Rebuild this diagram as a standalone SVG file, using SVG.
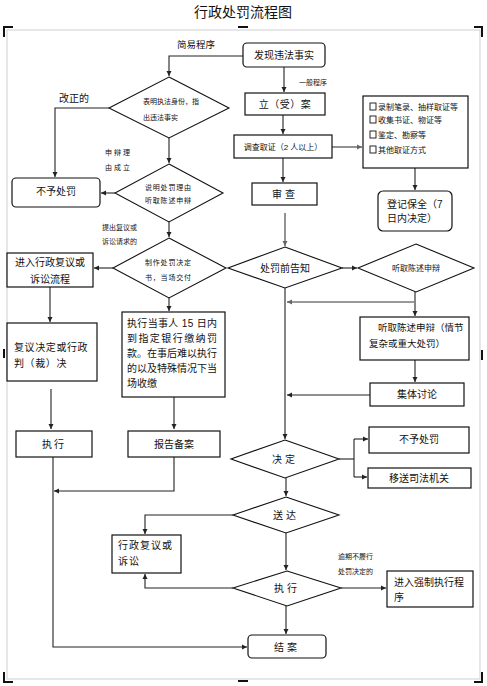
<svg xmlns="http://www.w3.org/2000/svg" width="487" height="686" viewBox="0 0 487 686">
<defs>
<marker id="ah" markerWidth="6" markerHeight="6" refX="5" refY="3" orient="auto" markerUnits="userSpaceOnUse">
<path d="M0,0.5 L5,3 L0,5.5 Z" fill="#222"/>
</marker>
<marker id="ahg" markerWidth="6" markerHeight="6" refX="5" refY="3" orient="auto" markerUnits="userSpaceOnUse">
<path d="M0,0.5 L5,3 L0,5.5 Z" fill="#666"/>
</marker>
</defs>
<style>
text{font-family:"Liberation Sans","Noto Sans CJK SC",sans-serif;fill:#111}
.t{font-size:10px}
.c{text-anchor:middle}
.s{font-size:7px}
.m{font-size:8px}
.n{fill:#fff;stroke:#111;stroke-width:1.2}
.d{fill:#fff;stroke:#111;stroke-width:1.1}
.e{fill:none;stroke:#222;stroke-width:1.1}
.g{fill:none;stroke:#777;stroke-width:1.6}
.cb{fill:#fff;stroke:#111;stroke-width:0.9}
.mark{fill:#111}
</style>
<rect width="487" height="686" fill="#fff"/>
<g id="page">
<rect x="7" y="30" width="473" height="649" fill="none" stroke="#cfcfd4" stroke-width="1"/>
<path class="mark" d="M3,26h10v2H5v9H3z"/>
<path class="mark" d="M474,26h9v11h-2v-9h-7z"/>
<path class="mark" d="M3,672h2v9h8v2H3z"/>
<path class="mark" d="M481,672h2v11h-9v-2h7z"/>
<rect class="mark" x="238" y="26" width="10" height="2"/>
<rect class="mark" x="238" y="680" width="10" height="2"/>
<rect class="mark" x="3" y="349" width="2" height="9"/>
<rect class="mark" x="481" y="350" width="2" height="10"/>
<text x="243" y="17" class="c" style="font-size:14px">行政处罚流程图</text>
</g>
<g id="connectors">
<path class="e" d="M243,56H169V76" marker-end="url(#ah)"/>
<path class="e" d="M284,67V92" marker-end="url(#ah)"/>
<path class="e" d="M283,115V134" marker-end="url(#ah)"/>
<path class="e" d="M283,158V182" marker-end="url(#ah)"/>
<path class="g" d="M285,213V246" marker-end="url(#ahg)"/>
<path class="g" d="M332,147H362" marker-end="url(#ahg)"/>
<path class="e" d="M415,168V190" marker-end="url(#ah)"/>
<path class="e" d="M109,108H55V177" marker-end="url(#ah)"/>
<path class="e" d="M169,138V163" marker-end="url(#ah)"/>
<path class="e" d="M115,193H101" marker-end="url(#ah)"/>
<path class="e" d="M169,222V237" marker-end="url(#ah)"/>
<path class="e" d="M113,268H94" marker-end="url(#ah)"/>
<path class="e" d="M169,298V311" marker-end="url(#ah)"/>
<path class="e" d="M50,287V322" marker-end="url(#ah)"/>
<path class="e" d="M51,389V429" marker-end="url(#ah)"/>
<path class="e" d="M174,397V429" marker-end="url(#ah)"/>
<path class="e" d="M53,457V647H247" marker-end="url(#ah)"/>
<path class="e" d="M174,457V491H54" marker-end="url(#ah)"/>
<path class="e" d="M342,268H357" marker-end="url(#ah)"/>
<path class="e" d="M415,292V316" marker-end="url(#ah)"/>
<path class="g" d="M414,302H287" marker-end="url(#ahg)"/>
<path class="e" d="M285,288V439" marker-end="url(#ah)"/>
<path class="e" d="M415,360V382" marker-end="url(#ah)"/>
<path class="e" d="M370,395H287" marker-end="url(#ah)"/>
<path class="e" d="M339,459H354"/>
<path class="e" d="M354,439V477"/>
<path class="e" d="M354,439H368" marker-end="url(#ah)"/>
<path class="e" d="M354,477H367" marker-end="url(#ah)"/>
<path class="e" d="M286,477V496" marker-end="url(#ah)"/>
<path class="e" d="M233,515H145V534" marker-end="url(#ah)"/>
<path class="e" d="M286,533V570" marker-end="url(#ah)"/>
<path class="e" d="M233,588H145V574" marker-end="url(#ah)"/>
<path class="e" d="M341,588H386" marker-end="url(#ah)"/>
<path class="e" d="M286,606V634" marker-end="url(#ah)"/>
<text x="196" y="48" class="c" style="font-size:9.5px">简易程序</text>
<text x="74" y="102" class="c" style="font-size:10px">改正的</text>
<text x="105" y="155" class="s" style="letter-spacing:2px">申辩理</text>
<text x="105" y="170" class="s" style="letter-spacing:2px">由成立</text>
<text x="102" y="230" class="s">提出复议或</text>
<text x="102" y="244" class="s">诉讼请求的</text>
<text x="299" y="85" class="s">一般程序</text>
<text x="338" y="559" class="s">逾期不履行</text>
<text x="338" y="574" class="s">处罚决定的</text>
</g>
<g id="n-discover"><rect class="n" x="243" y="43" width="82" height="24" rx="4"/><text x="284" y="59" class="t c">发现违法事实</text></g>
<g id="n-d1"><polygon class="d" points="169,77 229,108 169,138 109,108"/><text x="143" y="104" class="s">表明执法身份，指</text><text x="143" y="120" class="s">出违法事实</text></g>
<g id="n-nopenalty1"><rect class="n" x="12" y="178" width="88" height="29" rx="4"/><text x="56" y="195" class="t c">不予处罚</text></g>
<g id="n-d2"><polygon class="d" points="169,164 223,193 169,222 115,193"/><text x="145" y="190" class="s" style="letter-spacing:0.8px">说明处罚理由</text><text x="145" y="203" class="s" style="letter-spacing:0.8px">听取陈述申辩</text></g>
<g id="n-d3"><polygon class="d" points="169,238 226,268 169,298 113,268"/><text x="145" y="265" class="s" style="letter-spacing:0.8px">制作处罚决定</text><text x="145" y="280" class="s" style="letter-spacing:0.8px">书，当场交付</text></g>
<g id="n-review"><rect class="n" x="7" y="253" width="86" height="34"/><text x="50" y="266" class="t c">进入行政复议或</text><text x="50" y="283" class="t c">诉讼流程</text></g>
<g id="n-verdict"><rect class="n" x="7" y="323" width="90" height="58"/><text x="14" y="351" class="t" style="letter-spacing:0.6px">复议决定或行政</text><text x="14" y="367" class="t" style="letter-spacing:0.6px">判（裁）决</text></g>
<g id="n-exec1"><rect class="n" x="16" y="431" width="76" height="26"/><text x="54" y="448" class="t c" style="letter-spacing:2px">执行</text></g>
<g id="n-pay"><rect class="n" x="122" y="312" width="103" height="85"/>
<text x="127" y="327" class="t" textLength="90" lengthAdjust="spacing">执行当事人 15 日内</text>
<text x="127" y="342" class="t" textLength="90" lengthAdjust="spacing">到指定银行缴纳罚</text>
<text x="127" y="357" class="t" textLength="90" lengthAdjust="spacing">款。在事后难以执行</text>
<text x="127" y="372" class="t" textLength="90" lengthAdjust="spacing">的以及特殊情况下当</text>
<text x="127" y="387" class="t">场收缴</text></g>
<g id="n-report"><rect class="n" x="128" y="431" width="92" height="26"/><text x="174" y="448" class="t c">报告备案</text></g>
<g id="n-file"><rect class="n" x="245" y="93" width="80" height="22"/><text x="285" y="108" class="t c" style="letter-spacing:0.5px">立（受）案</text></g>
<g id="n-investigate"><rect class="n" x="234" y="135" width="98" height="23"/><text x="283" y="150" class="m c">调查取证（2 人以上）</text></g>
<g id="n-evidence"><rect class="n" x="363" y="96" width="105" height="72"/>
<rect class="cb" x="370" y="103" width="6" height="7"/><text x="378" y="110" class="m">录制笔录、抽样取证等</text>
<rect class="cb" x="370" y="116" width="6" height="7"/><text x="378" y="123" class="m">收集书证、物证等</text>
<rect class="cb" x="370" y="131" width="6" height="7"/><text x="378" y="138" class="m">鉴定、勘察等</text>
<rect class="cb" x="370" y="146" width="6" height="7"/><text x="378" y="153" class="m">其他取证方式</text></g>
<g id="n-preserve"><rect class="n" x="378" y="191" width="74" height="40" rx="5"/><text x="387" y="208" class="t">登记保全（7</text><text x="387" y="222" class="t">日内决定）</text></g>
<g id="n-examine"><rect class="n" x="252" y="183" width="65" height="22"/><text x="285" y="198" class="t c" style="letter-spacing:3px">审查</text></g>
<g id="n-notify"><polygon class="d" points="285,247 342,268 285,288 228,268"/><text x="285" y="272" class="t c">处罚前告知</text></g>
<g id="n-hear"><polygon class="d" points="416,244 474,268 416,292 358,268"/><text x="416" y="271" class="m c">听取陈述申辩</text></g>
<g id="n-hearing"><rect class="n" x="360" y="317" width="109" height="43"/><text x="378" y="331" class="t" style="font-size:9.5px">听取陈述申辩（情节</text><text x="369" y="347" class="t" style="font-size:9.5px">复杂或重大处罚）</text></g>
<g id="n-discuss"><rect class="n" x="370" y="383" width="94" height="23"/><text x="417" y="398" class="t c">集体讨论</text></g>
<g id="n-decide"><polygon class="d" points="285,440 339,459 285,478 231,459"/><text x="285" y="463" class="t c" style="letter-spacing:3px">决定</text></g>
<g id="n-nopenalty2"><rect class="n" x="369" y="427" width="100" height="26"/><text x="419" y="443" class="t c">不予处罚</text></g>
<g id="n-transfer"><rect class="n" x="368" y="468" width="103" height="20"/><text x="419" y="482" class="t c">移送司法机关</text></g>
<g id="n-deliver"><polygon class="d" points="286,497 339,515 286,533 233,515"/><text x="286" y="519" class="t c" style="letter-spacing:3px">送达</text></g>
<g id="n-appeal"><rect class="n" x="112" y="535" width="69" height="38"/><text x="118" y="549" class="t" style="letter-spacing:1px">行政复议或</text><text x="118" y="565" class="t" style="letter-spacing:1px">诉讼</text></g>
<g id="n-exec2"><polygon class="d" points="287,571 341,588 287,606 233,588"/><text x="287" y="592" class="t c" style="letter-spacing:3px">执行</text></g>
<g id="n-enforce"><rect class="n" x="387" y="571" width="86" height="36"/><text x="394" y="586" class="t">进入强制执行程</text><text x="394" y="601" class="t">序</text></g>
<g id="n-close"><rect class="n" x="248" y="635" width="78" height="23" rx="4"/><text x="287" y="651" class="t c" style="letter-spacing:3px">结案</text></g>
</svg>
